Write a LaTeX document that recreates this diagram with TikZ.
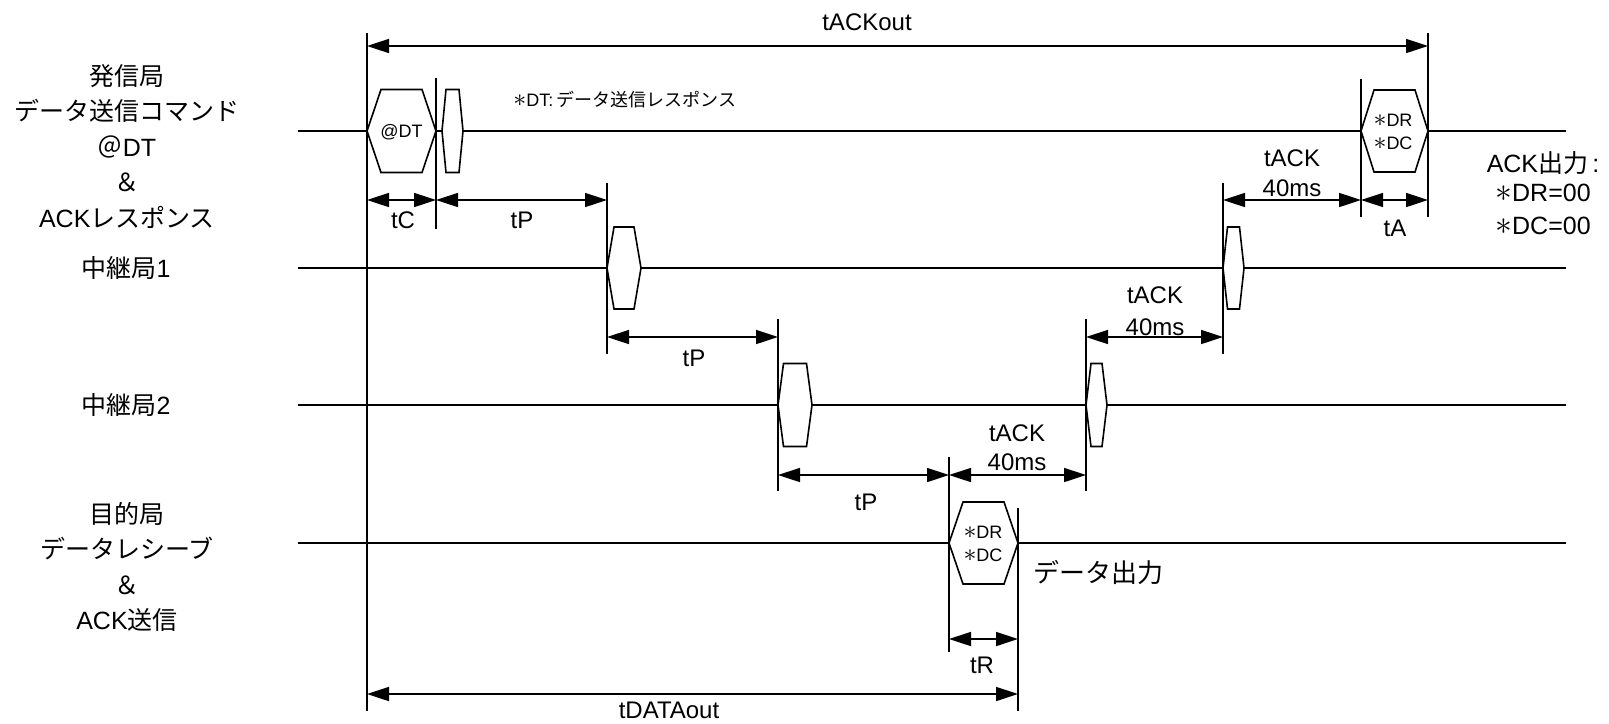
\documentclass[tikz,border=0pt]{standalone}
\usepackage{fontspec}
\usepackage{graphicx}
\setmainfont{Liberation Sans}
\newfontfamily\jp{Noto Sans CJK JP}
\usetikzlibrary{arrows.meta}
\newcommand\bast{\scalebox{1.4}{$\ast$}}
\newcommand\tdhex[6]{% name, x left, x right, y, inset, half height
  \draw[sig,fill=white] (#2,#4) -- ({#2+#5},{#4-#6}) -- ({#3-#5},{#4-#6}) -- (#3,#4)
    -- ({#3-#5},{#4+#6}) -- ({#2+#5},{#4+#6}) -- cycle;
  \coordinate (#1) at ({(#2+#3)/2},#4);}
\begin{document}
\begin{tikzpicture}[x=0.5pt,y=-0.5pt,
  sig/.style={line width=0.8pt},
  vline/.style={line width=0.8pt},
  dimarrow/.style={line width=0.8pt,{Triangle[length=11pt,width=7pt]}-{Triangle[length=11pt,width=7pt]}},
  lbl/.style={inner sep=0pt,text height=9pt,text depth=0pt,font=\fontsize{12.5}{15}\selectfont},
  tlbl/.style={inner sep=0pt,text height=8.6pt,text depth=0pt,font=\fontsize{12}{14}\selectfont},
  small/.style={inner sep=0pt,text height=6.5pt,text depth=0pt,font=\fontsize{9}{11}\selectfont},
]
\useasboundingbox (0,0) rectangle (1609,723);

% signal lines
\coordinate (s0L) at (298,131); \coordinate (s0R) at (1566,131);
\coordinate (s1L) at (298,268); \coordinate (s1R) at (1566,268);
\coordinate (s2L) at (298,405); \coordinate (s2R) at (1566,405);
\coordinate (s3L) at (298,543); \coordinate (s3R) at (1566,543);
\draw[sig] (s0L) -- (s0R);
\draw[sig] (s1L) -- (s1R);
\draw[sig] (s2L) -- (s2R);
\draw[sig] (s3L) -- (s3R);

% packets
\tdhex{hDT}{367}{436}{131}{14}{41.5}
\tdhex{hResp}{442}{463}{131}{4}{41.5}
\tdhex{hAckS}{1361}{1428}{131}{13}{41}
\tdhex{hR1f}{607}{641}{268}{7}{41}
\tdhex{hR1a}{1223}{1244}{268}{4.5}{41}
\tdhex{hR2f}{778}{812}{405}{5.5}{41.5}
\tdhex{hR2a}{1086}{1107}{405}{5}{41.5}
\tdhex{hDst}{949}{1018}{543}{14}{41}

% vertical reference lines
\coordinate (v0t) at (367,33);   \coordinate (v0b) at (367,711);
\coordinate (v1t) at (436,78);   \coordinate (v1b) at (436,229);
\coordinate (v2t) at (607,183);  \coordinate (v2b) at (607,354);
\coordinate (v3t) at (778,319);  \coordinate (v3b) at (778,491);
\coordinate (v4t) at (949,457);  \coordinate (v4b) at (949,652);
\coordinate (v5t) at (1018,508); \coordinate (v5b) at (1018,711);
\coordinate (v6t) at (1086,319); \coordinate (v6b) at (1086,491);
\coordinate (v7t) at (1223,183); \coordinate (v7b) at (1223,354);
\coordinate (v8t) at (1361,79);  \coordinate (v8b) at (1361,217);
\coordinate (v9t) at (1428,33);  \coordinate (v9b) at (1428,217);
\foreach \v in {0,...,9} {\draw[vline] (v\v t) -- (v\v b);}

% dimension arrows
\coordinate (aoL) at (367,46);  \coordinate (aoR) at (1428,46);
\coordinate (tcL) at (367,200); \coordinate (tcR) at (436,200);
\coordinate (p1R) at (607,200);
\coordinate (k1L) at (1223,200); \coordinate (k1R) at (1361,200);
\coordinate (taR) at (1428,200);
\coordinate (p2L) at (607,337); \coordinate (p2R) at (778,337);
\coordinate (k2L) at (1086,337); \coordinate (k2R) at (1223,337);
\coordinate (p3L) at (778,475); \coordinate (p3R) at (949,475);
\coordinate (k3R) at (1086,475);
\coordinate (trL) at (949,639); \coordinate (trR) at (1018,639);
\coordinate (doL) at (367,694); \coordinate (doR) at (1018,694);
\draw[dimarrow] (aoL) -- (aoR);
\draw[dimarrow] (tcL) -- (tcR);
\draw[dimarrow] (tcR) -- (p1R);
\draw[dimarrow] (k1L) -- (k1R);
\draw[dimarrow] (k1R) -- (taR);
\draw[dimarrow] (p2L) -- (p2R);
\draw[dimarrow] (k2L) -- (k2R);
\draw[dimarrow] (p3L) -- (p3R);
\draw[dimarrow] (p3R) -- (k3R);
\draw[dimarrow] (trL) -- (trR);
\draw[dimarrow] (doL) -- (doR);

% dimension labels
\node[tlbl] (lAckOut) at (867,22) {tACKout};
\node[tlbl] (lTC) at (403,220) {tC};
\node[tlbl] (lTP1) at (522,220) {tP};
\node[tlbl] (lK1a) at (1292,158) {tACK};
\node[tlbl] (lK1b) at (1292,188) {40ms};
\node[tlbl] (lTA) at (1395,228) {tA};
\node[tlbl] (lTP2) at (694,358) {tP};
\node[tlbl] (lK2a) at (1155,295) {tACK};
\node[tlbl] (lK2b) at (1155,327) {40ms};
\node[tlbl] (lTP3) at (866,502) {tP};
\node[tlbl] (lK3a) at (1017,433) {tACK};
\node[tlbl] (lK3b) at (1017,462) {40ms};
\node[tlbl] (lTR) at (982,665) {tR};
\node[tlbl] (lDO) at (669,710) {tDATAout};

% packet texts
\node[small] (tDT) at (hDT) {@DT};
\node[small] (tS1) at (1393,120) {\bast DR};
\node[small] (tS2) at (1393,143) {\bast DC};
\node[small] (tD1) at (983,532) {\bast DR};
\node[small] (tD2) at (983,555) {\bast DC};
\node[small,anchor=west] (note) at (513,100) {\bast DT:\,{\jp データ送信レスポンス}};

% station labels
\node[lbl] (src1) at (127,76) {\jp 発信局};
\node[lbl] (src2) at (127,111) {\jp データ送信コマンド};
\node[lbl] (src3) at (127,147) {{\jp ＠}DT};
\node[lbl] (src4) at (127,182) {\jp ＆};
\node[lbl] (src5) at (127,218) {ACK{\jp レスポンス}};
\node[lbl] (rel1) at (126,268) {{\jp 中継局}1};
\node[lbl] (rel2) at (126,405) {{\jp 中継局}2};
\node[lbl] (dst1) at (127,514) {\jp 目的局};
\node[lbl] (dst2) at (127,549) {\jp データレシーブ};
\node[lbl] (dst3) at (127,585) {\jp ＆};
\node[lbl] (dst4) at (127,620) {ACK{\jp 送信}};

% outputs
\node[lbl] (ack1) at (1543,163) {ACK{\jp 出力}\,:};
\node[lbl] (ack2) at (1543,192) {\bast DR=00};
\node[lbl] (ack3) at (1543,225) {\bast DC=00};
\node[lbl,anchor=west,font=\fontsize{13}{15}\selectfont] (dout) at (1033,573) {\jp データ出力};
\end{tikzpicture}
\end{document}
